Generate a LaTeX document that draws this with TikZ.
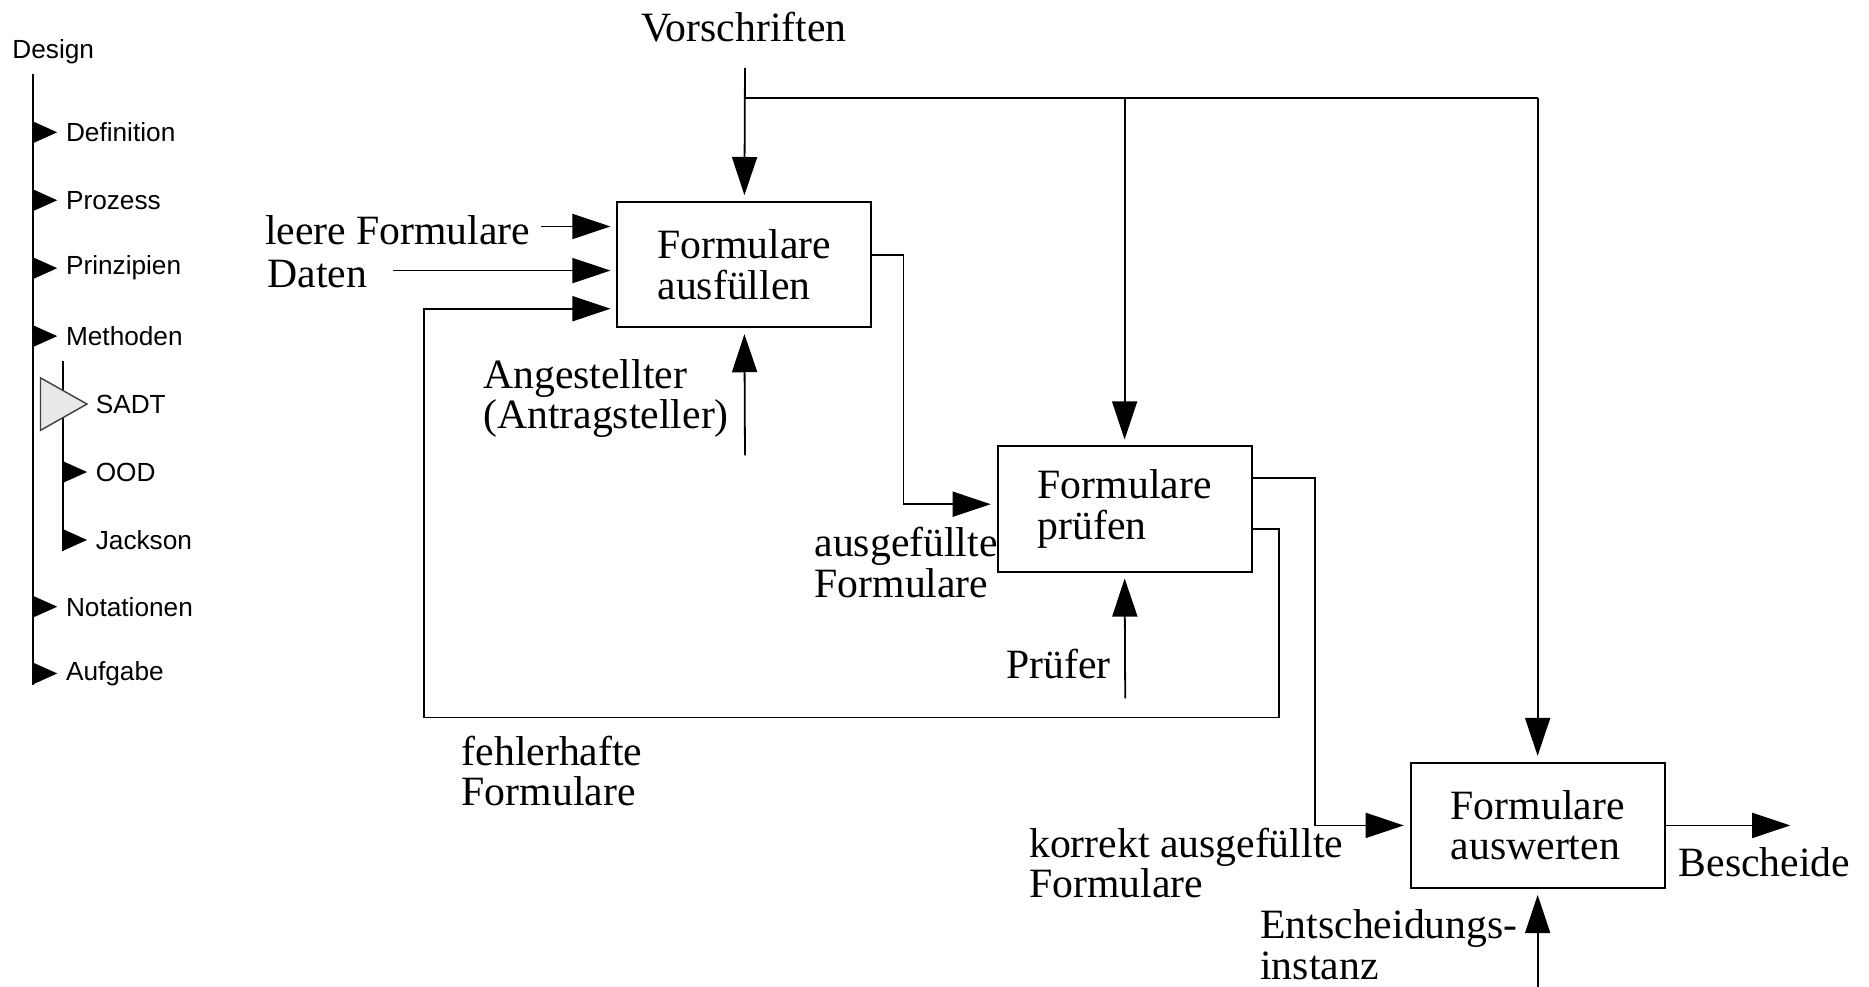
\documentclass[tikz,border=0pt]{standalone}
\usepackage{fontspec}
\setmainfont{Liberation Serif}
\newfontfamily\menufont{Liberation Sans}
\usetikzlibrary{arrows.meta}

\begin{document}
\begin{tikzpicture}[x=0.5pt,y=-0.5pt,
  lbl/.style={font=\fontsize{17.5}{17}\selectfont, inner sep=0pt},
  menu/.style={font=\menufont\fontsize{11}{13}\selectfont, inner sep=0pt, anchor=west},
  activity/.style={draw, line width=0.8pt, align=left, inner sep=0pt,
    minimum width=106.5pt, minimum height=52.5pt,
    font=\fontsize{17.5}{17}\selectfont},
  wire/.style={line width=0.75pt},
  flow/.style={wire, -{Triangle[length=16pt,width=10.5pt]}, shorten >=2.5pt},
]
\useasboundingbox (0,0) rectangle (1568,828);

% ---------- navigation outline ----------
\node[menu] (design) at (10,43) {Design};
\draw[line width=0.9pt] (28,62) -- (28,575);
\draw[line width=0.9pt] (53,303) -- (53,462);
\foreach \y/\name/\t in {111/def/Definition,168/proz/Prozess,225/prin/Prinzipien,
                          282/meth/Methoden,509/nota/Notationen,565/aufg/Aufgabe}{
  \fill (28,\y-9) -- (48,\y) -- (28,\y+9) -- cycle;
  \node[menu] (\name) at (55,\y) {\t};
}
\foreach \y/\name/\t in {396/ood/OOD,453/jack/Jackson}{
  \fill (53,\y-9) -- (73,\y) -- (53,\y+9) -- cycle;
  \node[menu] (\name) at (80,\y) {\t};
}
\filldraw[fill=black!9, draw=black!75, line width=0.6pt] (34,317) -- (73,339) -- (34,361) -- cycle;
\node[menu] (sadt) at (80,339) {SADT};

% ---------- activity boxes ----------
\node[activity] (b1) at (624.5,222) {Formulare\\ausfüllen};
\node[activity] (b2) at (943.5,427) {Formulare\\prüfen};
\node[activity] (b3) at (1290,692.5) {Formulare\\auswerten};

% ---------- labels ----------
\node[lbl] (vor) at (624,23) {Vorschriften};
\node[lbl, anchor=west] (leer) at (222,193) {leere Formulare};
\node[lbl, anchor=west] (daten) at (224,230) {Daten};
\node[lbl, anchor=north west, align=left] (angest) at (405,301) {Angestellter\\(Antragsteller)};
\node[lbl, anchor=north west, align=left] (ausgef) at (683,442) {ausgefüllte\\Formulare};
\node[lbl, anchor=west] (pruefer) at (844,557) {Prüfer};
\node[lbl, anchor=north west, align=left] (fehler) at (387,617) {fehlerhafte\\Formulare};
\node[lbl, anchor=north west, align=left] (korrekt) at (863,694) {korrekt ausgefüllte\\Formulare};
\node[lbl, anchor=west] (besch) at (1408,723) {Bescheide};
\node[lbl, anchor=north west, align=left] (entsch) at (1057,763) {Entscheidungs-\\instanz};

% ---------- free ends of the connectors ----------
\coordinate (vstart) at (625,57);
\coordinate (vjoin) at (625,82);
\coordinate (leerstart) at (454,190);
\coordinate (datenstart) at (330,227);
\coordinate (angstart) at (625,382);
\coordinate (prstart) at (944,586);
\coordinate (entstart) at (1290,828);
\coordinate (out) at (1502,692.5);

% ---------- controls ----------
\draw[flow] (vstart) -- (b1.north);
\draw[wire] (vjoin) -- (b3.north |- vjoin);
\draw[flow] (b2.north |- vjoin) -- (b2.north);
\draw[flow] (b3.north |- vjoin) -- (b3.north);

% ---------- inputs ----------
\draw[flow] (leerstart) -- (b1.west |- leerstart);
\draw[flow] (datenstart) -- (b1.west |- datenstart);

% ---------- mechanisms ----------
\draw[flow] (angstart) -- (b1.south);
\draw[flow] (prstart) -- (b2.south);
\draw[flow] (entstart) -- (b3.south);

% ---------- outputs ----------
\draw[flow] (b1.east |- 0,214) -- (758,214) |- (b2.west |- 0,423);
\draw[flow] (b2.east |- 0,444) -- (1073,444) -- (1073,602) -- (356,602)
            |- (b1.west |- 0,259);
\draw[flow] (b2.east |- 0,401) -- (1103,401) |- (b3.west);
\draw[wire, -{Triangle[length=16pt,width=10.5pt]}] (b3.east) -- (out);
\end{tikzpicture}
\end{document}
